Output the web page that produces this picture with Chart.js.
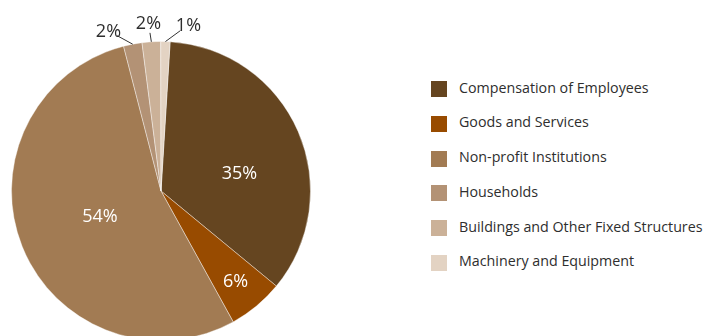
<!DOCTYPE html>
<html>
<head>
<meta charset="utf-8">
<script src="https://cdn.jsdelivr.net/npm/chart.js@4.4.1/dist/chart.umd.min.js"></script>
<style>
  html, body { margin: 0; padding: 0; background: #fff; overflow: hidden; }
  body { width: 707px; height: 336px; position: relative; font-family: 'Open Sans', sans-serif; }
  #pie { position: absolute; left: 0; top: 0; }
  #legend { position: absolute; left: 431px; top: 81px; margin: 0; padding: 0; list-style: none; }
  #legend li { position: relative; height: 16px; margin-bottom: 18.8px; white-space: nowrap; }
  #legend .box { position: absolute; left: 0; top: 0; width: 16px; height: 16px; }
  #legend .txt { position: absolute; left: 28px; top: -1.5px; font-size: 14.25px; line-height: 16px; color: #2e2e2e; }
</style>
</head>
<body>
<canvas id="pie" width="322" height="382"></canvas>
<ul id="legend"></ul>
<script>
'use strict'

// categories, shares (%) and their colours
const categories = [
  'Compensation of Employees',
  'Goods and Services',
  'Non-profit Institutions',
  'Households',
  'Buildings and Other Fixed Structures',
  'Machinery and Equipment'
];
const shares = [35, 6, 54, 2, 2, 1];
const sliceColors = ['#654520', '#984b00', '#a27b53', '#b39275', '#cbb198', '#e3d3c3'];

// percent labels : inside the big slices, outside with a leader line for the small ones
const pctLabels = {
  id: 'pctLabels',
  afterDatasetsDraw(chart, args, opts) {
    const c = chart.ctx;
    const arcs = chart.getDatasetMeta(0).data;
    const outside = [];

    c.save();
    c.font = opts.size + 'px "Open Sans"';
    c.textAlign = 'center';
    c.textBaseline = 'alphabetic';

    arcs.forEach((arc, i) => {
      const v = shares[i];
      const mid = (arc.startAngle + arc.endAngle) / 2;
      const txt = Math.round(v) + '%';
      if (v >= opts.minInside) {
        const p = opts.inside[i] || {r: 0.6, turn: 0};
        const a = mid + p.turn * Math.PI / 180;
        const d = arc.outerRadius * p.r;
        c.fillStyle = '#fff';
        c.fillText(txt, arc.x + Math.cos(a) * d, arc.y + Math.sin(a) * d + opts.size * 0.357);
      } else {
        outside.push({arc, mid, txt, x: arc.x + Math.cos(mid) * (arc.outerRadius + opts.gap)});
      }
    });

    // spread the small labels sideways so they don't collide
    if (outside.length) {
      outside.sort((a, b) => a.x - b.x);
      const mean = outside.reduce((s, o) => s + o.x, 0) / outside.length;
      for (let i = 1; i < outside.length; i++) {
        if (outside[i].x - outside[i - 1].x < opts.spread) outside[i].x = outside[i - 1].x + opts.spread;
      }
      const shift = mean - outside.reduce((s, o) => s + o.x, 0) / outside.length;
      outside.forEach(o => {
        const arc = o.arc;
        const R = arc.outerRadius + opts.gap;
        o.x += shift;
        const dx = o.x - arc.x;
        const ty = arc.y - Math.sqrt(Math.max(R * R - dx * dx, 0));
        const sx = arc.x + Math.cos(o.mid) * arc.outerRadius;
        const sy = arc.y + Math.sin(o.mid) * arc.outerRadius;
        const len = Math.hypot(sx - o.x, sy - ty);
        const ex = o.x + (sx - o.x) / len * 10;
        const ey = ty + (sy - ty) / len * 10;

        c.strokeStyle = '#333';
        c.lineWidth = 1;
        c.beginPath();
        c.moveTo(sx, sy);
        c.lineTo(ex, ey);
        c.stroke();

        c.fillStyle = '#2e2e2e';
        c.fillText(o.txt, o.x, ty + opts.size * 0.357);
      });
    }
    c.restore();
  }
};

new Chart(document.getElementById('pie'), {
  type: 'pie',
  data: {
    labels: categories,
    datasets: [{
      data: shares,
      backgroundColor: sliceColors,
      borderColor: 'rgba(255, 255, 255, 0.4)',
      borderWidth: 1
    }]
  },
  options: {
    responsive: false,
    animation: false,
    rotation: 3.5,
    layout: { padding: { left: 11, right: 11, top: 41, bottom: 41 } },
    plugins: {
      legend: { display: false },
      tooltip: { enabled: false },
      pctLabels: {
        size: 18,
        minInside: 5,
        gap: 19,
        spread: 40,
        inside: [{r: 0.54, turn: 10}, {r: 0.78, turn: 0}, {r: 0.44, turn: 0}]
      }
    }
  },
  plugins: [pctLabels]
});

// legend list on the right
const legend = document.getElementById('legend');
categories.forEach((name, i) => {
  const li = document.createElement('li');
  li.innerHTML = '<span class="box" style="background:' + sliceColors[i] + '"></span>' +
    '<span class="txt">' + name + '</span>';
  legend.appendChild(li);
});
</script>
</body>
</html>
